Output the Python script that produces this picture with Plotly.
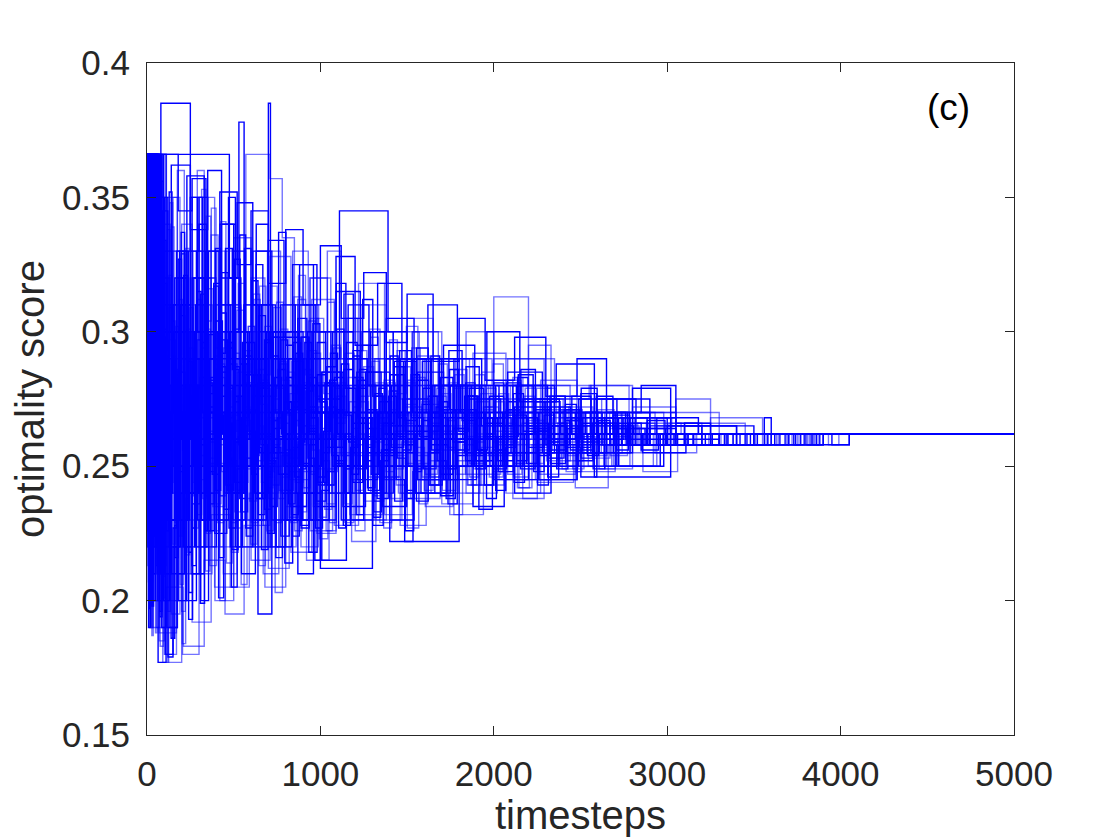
import plotly.graph_objects as go

# optimality score of each run, stored as (timestep, value) change points
# every run keeps its last value until t_end
t_end = 5000

run01 = [(0, .366), (8, .24), (20, .33), (34, .21), (50, .366), (66, .26), (90, .345), (120, .23), (160, .30),
         (210, .25), (270, .32), (330, .22), (400, .285), (470, .24), (560, .31), (650, .255), (760, .29),
         (860, .24), (980, .275), (1120, .25), (1260, .285), (1400, .255), (1560, .27), (1720, .245),
         (1900, .268), (2100, .255), (2350, .27), (2600, .258), (2900, .265), (3200, .258), (3600, .262)]
run02 = [(0, .366), (15, .19), (28, .30), (45, .25), (60, .366), (80, .215), (105, .29), (140, .195), (190, .27),
         (250, .21), (310, .31), (380, .235), (450, .33), (530, .26), (620, .22), (720, .30), (820, .245),
         (940, .32), (1060, .26), (1180, .23), (1310, .28), (1450, .24), (1600, .29), (1780, .255), (1960, .275),
         (2150, .25), (2380, .268), (2620, .255), (2850, .262), (3100, .258), (3400, .262)]
run03 = [(0, .366), (5, .28), (18, .366), (30, .20), (48, .32), (64, .177), (110, .25), (150, .31), (200, .26),
         (260, .35), (320, .27), (390, .225), (460, .29), (540, .25), (630, .34), (700, .28), (790, .23),
         (890, .27), (1000, .215), (1150, .26), (1290, .30), (1420, .265), (1580, .24), (1750, .28), (1920, .26),
         (2120, .245), (2330, .265), (2560, .255), (2800, .268), (3050, .258), (3500, .262)]
run04 = [(0, .366), (10, .35), (22, .23), (38, .366), (52, .27), (70, .185), (100, .28), (135, .22), (175, .36),
         (215, .29), (280, .245), (350, .30), (420, .20), (500, .27), (580, .23), (670, .30), (750, .26),
         (840, .33), (930, .27), (1050, .24), (1200, .29), (1340, .26), (1500, .305), (1650, .27), (1820, .25),
         (2000, .29), (2200, .265), (2420, .25), (2650, .27), (2900, .258), (3300, .262)]
run05 = [(0, .366), (30, .25), (50, .30), (80, .385), (250, .33), (300, .35), (350, .26), (420, .31), (480, .24),
         (560, .28), (640, .195), (720, .26), (800, .30), (900, .25), (1010, .285), (1130, .235), (1260, .27),
         (1390, .25), (1540, .29), (1700, .26), (1860, .275), (2040, .25), (2260, .27), (2500, .26), (2750, .268),
         (3000, .258), (3400, .262)]
run06 = [(0, .366), (7, .30), (16, .366), (26, .22), (42, .34), (58, .27), (76, .366), (92, .23), (120, .177),
         (200, .24), (240, .30), (290, .36), (330, .28), (400, .33), (460, .26), (540, .22), (610, .29), (690, .25),
         (780, .31), (870, .265), (980, .225), (1090, .27), (1220, .24), (1370, .28), (1520, .255), (1680, .29),
         (1860, .26), (2030, .245), (2240, .27), (2480, .25), (2720, .262), (3000, .258), (3600, .262)]
run07 = [(0, .366), (12, .26), (26, .31), (40, .24), (58, .366), (74, .29), (96, .20), (130, .27), (170, .33),
         (230, .28), (290, .23), (360, .29), (430, .34), (500, .30), (580, .26), (660, .31), (740, .27),
         (830, .235), (920, .29), (1110, .345), (1390, .30), (1500, .26), (1640, .29), (1800, .27), (1950, .25),
         (2130, .28), (2350, .262), (2580, .275), (2820, .258), (3100, .265), (3500, .262)]
run08 = [(0, .366), (4, .22), (14, .33), (24, .19), (36, .366), (48, .25), (62, .31), (78, .21), (98, .366),
         (112, .26), (150, .22), (190, .30), (240, .26), (300, .32), (370, .25), (440, .21), (520, .285),
         (600, .32), (680, .26), (770, .22), (860, .28), (960, .24), (1070, .30), (1190, .255), (1320, .23),
         (1470, .27), (1620, .25), (1790, .28), (1980, .26), (2180, .275), (2400, .255), (2640, .27), (2900, .258),
         (3250, .262)]
run09 = [(0, .366), (9, .27), (20, .35), (33, .24), (47, .366), (63, .20), (86, .29), (118, .25), (160, .32),
         (210, .24), (260, .21), (330, .28), (400, .26), (470, .31), (540, .27), (620, .24), (700, .385),
         (712, .29), (790, .26), (880, .31), (970, .27), (1080, .25), (1210, .285), (1350, .26), (1500, .24),
         (1660, .27), (1830, .255), (2010, .28), (2230, .26), (2470, .27), (2700, .258), (3000, .265), (3400, .262)]
run10 = [(0, .366), (6, .34), (19, .25), (31, .366), (44, .30), (57, .22), (73, .366), (88, .27), (115, .24),
         (150, .35), (190, .30), (245, .26), (305, .21), (375, .26), (445, .30), (515, .25), (590, .29), (670, .21),
         (760, .27), (850, .25), (950, .30), (1060, .27), (1170, .23), (1300, .26), (1440, .29), (1590, .265),
         (1750, .24), (1920, .27), (2110, .258), (2330, .28), (2560, .262), (2800, .272), (3050, .258), (3450, .262)]
run11 = [(0, .366), (11, .21), (24, .29), (37, .366), (51, .25), (68, .33), (85, .19), (108, .26), (145, .30),
         (185, .23), (235, .28), (295, .25), (355, .33), (415, .27), (480, .30), (530, .378), (560, .29),
         (630, .25), (710, .22), (800, .28), (890, .24), (1000, .27), (1120, .23), (1250, .26), (1380, .29),
         (1530, .27), (1690, .25), (1850, .28), (2030, .265), (2250, .25), (2490, .268), (2740, .258), (3000, .262)]
run12 = [(0, .366), (13, .29), (27, .23), (42, .366), (56, .31), (72, .20), (100, .18), (170, .25), (205, .18),
         (300, .23), (350, .28), (420, .22), (490, .26), (560, .30), (640, .24), (720, .27), (810, .23), (900, .29),
         (1000, .26), (1110, .30), (1230, .27), (1360, .245), (1500, .28), (1660, .26), (1820, .29), (1990, .27),
         (2170, .25), (2380, .27), (2620, .258), (2880, .266), (3200, .262)]
run13 = [(0, .366), (8, .20), (21, .31), (35, .26), (49, .366), (65, .23), (82, .29), (104, .21), (138, .25),
         (180, .20), (225, .27), (280, .31), (340, .24), (410, .29), (480, .22), (550, .27), (630, .33), (700, .27),
         (780, .24), (870, .21), (960, .25), (1000, .212), (1300, .24), (1420, .27), (1560, .245), (1720, .26),
         (1880, .235), (2060, .255), (2260, .245), (2480, .262), (2720, .25), (2980, .258), (3350, .262),
         (3700, .258), (4050, .262)]
run14 = [(0, .366), (10, .25), (23, .36), (36, .28), (52, .366), (69, .24), (90, .32), (125, .27), (165, .23),
         (215, .29), (270, .25), (335, .32), (395, .28), (465, .24), (535, .30), (615, .26), (695, .33), (770, .28),
         (860, .25), (950, .30), (1060, .27), (1180, .25), (1310, .29), (1460, .26), (1610, .28), (1770, .255),
         (1930, .285), (2000, .313), (2200, .29), (2350, .27), (2560, .28), (2780, .262), (3020, .27), (3300, .262)]
run15 = [(0, .366), (7, .31), (17, .21), (29, .27), (43, .366), (59, .23), (77, .30), (99, .25), (132, .19),
         (175, .24), (220, .28), (275, .22), (340, .26), (405, .30), (475, .25), (545, .21), (625, .26), (705, .30),
         (790, .25), (880, .28), (975, .23), (1090, .27), (1210, .245), (1330, .27), (1400, .222), (1800, .25),
         (1950, .27), (2120, .24), (2330, .26), (2580, .246), (3020, .26), (3300, .258), (3700, .262)]
run16 = [(0, .366), (5, .27), (15, .366), (25, .23), (39, .30), (54, .366), (70, .26), (94, .22), (128, .29),
         (168, .25), (212, .33), (265, .27), (325, .23), (385, .31), (455, .27), (525, .23), (600, .28), (680, .24),
         (760, .30), (850, .27), (940, .32), (1040, .28), (1160, .24), (1290, .27), (1420, .30), (1570, .27),
         (1730, .25), (1900, .265), (2080, .29), (2290, .27), (2510, .255), (2740, .27), (2980, .262), (3250, .268),
         (3550, .262)]
run17 = [(0, .366), (9, .19), (19, .25), (32, .366), (46, .28), (61, .21), (80, .35), (102, .27), (140, .23),
         (180, .28), (228, .20), (285, .26), (345, .30), (410, .25), (470, .35), (510, .30), (590, .26), (665, .28),
         (745, .22), (835, .26), (925, .30), (1030, .26), (1150, .29), (1270, .255), (1400, .23), (1540, .26),
         (1700, .28), (1870, .25), (2050, .27), (2260, .245), (2480, .265), (2710, .25), (2960, .262), (3300, .258),
         (3900, .262)]
run18 = [(0, .366), (12, .34), (25, .26), (39, .366), (53, .21), (71, .27), (91, .177), (125, .23), (160, .27),
         (205, .22), (255, .30), (315, .26), (375, .22), (440, .27), (505, .24), (575, .29), (655, .25), (735, .29),
         (820, .26), (910, .24), (1010, .28), (1130, .26), (1250, .23), (1380, .25), (1520, .28), (1680, .26),
         (1840, .24), (2020, .26), (2220, .28), (2440, .26), (2680, .25), (2940, .265), (3200, .258), (3550, .262)]
run19 = [(0, .366), (6, .22), (16, .28), (28, .366), (41, .33), (55, .24), (73, .29), (95, .366), (110, .30),
         (150, .26), (195, .31), (250, .35), (290, .30), (355, .26), (425, .28), (495, .23), (565, .27), (645, .31),
         (725, .27), (815, .29), (905, .25), (1005, .285), (1115, .26), (1240, .30), (1370, .27), (1510, .25),
         (1660, .28), (1820, .26), (2000, .245), (2200, .265), (2420, .255), (2650, .275), (2900, .262),
         (3150, .258), (3500, .262)]
run20 = [(0, .366), (8, .30), (18, .24), (30, .35), (44, .20), (60, .28), (78, .23), (100, .32), (135, .20),
         (178, .26), (222, .23), (278, .29), (338, .32), (398, .27), (462, .24), (532, .28), (612, .22), (692, .26),
         (772, .24), (862, .30), (955, .27), (1065, .24), (1185, .27), (1315, .29), (1455, .25), (1605, .235),
         (1765, .265), (1935, .25), (2115, .275), (2325, .262), (2545, .25), (2785, .262), (3035, .258), (3350, .262)]
run21 = [(0, .366), (10, .23), (22, .366), (34, .29), (48, .24), (64, .33), (84, .27), (106, .18), (150, .22),
         (192, .28), (240, .24), (300, .34), (345, .29), (405, .25), (470, .32), (540, .28), (615, .23), (690, .28),
         (770, .31), (855, .26), (945, .23), (1050, .27), (1160, .31), (1280, .28), (1410, .26), (1560, .285),
         (1710, .27), (1880, .25), (2060, .27), (2280, .26), (2520, .27), (2760, .26), (3020, .265), (3400, .262)]
run22 = [(0, .366), (4, .33), (13, .25), (27, .366), (40, .27), (54, .19), (72, .25), (94, .30), (128, .25),
         (172, .21), (218, .25), (268, .29), (328, .25), (392, .20), (452, .24), (522, .29), (602, .26), (682, .22),
         (762, .28), (852, .25), (946, .27), (1046, .24), (1166, .28), (1296, .25), (1436, .27), (1586, .245),
         (1746, .27), (1916, .255), (2096, .28), (2306, .265), (2536, .26), (2776, .268), (3026, .262),
         (3300, .258), (3600, .262)]
run23 = [(0, .366), (11, .28), (24, .366), (37, .22), (52, .26), (67, .366), (85, .29), (112, .24), (148, .27),
         (188, .33), (238, .28), (298, .24), (358, .29), (428, .26), (498, .33), (568, .28), (648, .30), (728, .255),
         (808, .23), (898, .26), (998, .28), (1108, .25), (1228, .27), (1358, .235), (1498, .26), (1648, .28),
         (1808, .27), (1978, .25), (2168, .275), (2378, .255), (2608, .262), (2858, .255), (3108, .262)]
run24 = [(0, .366), (9, .25), (21, .32), (33, .21), (46, .366), (62, .30), (80, .26), (103, .22), (137, .28),
         (182, .32), (232, .26), (287, .22), (352, .27), (418, .23), (488, .27), (558, .31), (638, .27), (718, .29),
         (798, .26), (888, .22), (988, .26), (1098, .29), (1218, .26), (1348, .28), (1488, .26), (1638, .24),
         (1798, .26), (1968, .28), (2158, .26), (2368, .25), (2598, .265), (2838, .258), (3100, .266), (3450, .258),
         (3900, .262)]
run25 = [(0, .366), (14, .26), (28, .33), (42, .23), (56, .366), (75, .28), (97, .25), (131, .31), (170, .27),
         (218, .24), (274, .30), (336, .27), (402, .23), (470, .28), (540, .25), (620, .29), (700, .26), (785, .30),
         (875, .25), (970, .28), (1085, .25), (1205, .27), (1335, .25), (1475, .275), (1625, .26), (1785, .28),
         (1955, .26), (2135, .27), (2345, .258), (2575, .268), (2815, .258), (3000, .262), (3060, .258),
         (3120, .262), (3200, .258), (3260, .262), (3340, .258), (3420, .262), (3480, .258), (3560, .268),
         (3600, .262), (3650, .258), (3700, .262), (3730, .258), (3770, .262), (3800, .258), (3830, .262),
         (3860, .258), (3900, .262), (3950, .258), (4050, .262)]
run26 = [(0, .366), (6, .29), (17, .366), (30, .25), (45, .31), (60, .22), (79, .27), (101, .34), (134, .28),
         (176, .24), (224, .31), (282, .26), (342, .23), (412, .27), (478, .24), (548, .26), (628, .23), (708, .27),
         (788, .25), (868, .28), (962, .26), (1072, .28), (1192, .25), (1322, .27), (1462, .24), (1612, .265),
         (1772, .25), (1942, .27), (2122, .262), (2332, .275), (2562, .262), (2802, .27), (3052, .262),
         (3300, .258), (3500, .262), (3580, .258), (3640, .262), (3720, .258), (3760, .262), (3810, .258),
         (3850, .262)]
run27 = [(0, .366), (475, .32), (540, .28), (600, .25), (690, .30), (770, .27), (860, .23), (960, .27),
         (1070, .30), (1190, .28), (1320, .26), (1460, .29), (1610, .27), (1770, .29), (1930, .265), (2110, .28),
         (2310, .262), (2530, .27), (2770, .258), (3020, .262)]
run28 = [(0, .366), (30, .28), (100, .24), (160, .29), (230, .33), (320, .27), (400, .31), (490, .26),
         (570, .366), (710, .357), (780, .335), (850, .31), (940, .28), (1040, .33), (1120, .29), (1240, .31),
         (1380, .28), (1530, .30), (1680, .28), (1840, .30), (2000, .28), (2200, .295), (2330, .275), (2550, .28),
         (2800, .27), (3050, .275), (3250, .262)]
run29 = [(0, .366), (3, .247), (9, .318), (15, .203), (22, .291), (30, .366), (37, .262), (45, .224), (54, .337),
         (63, .279), (74, .196), (86, .255), (99, .301), (113, .234), (128, .352), (144, .288), (161, .216),
         (179, .263), (198, .329), (218, .247), (240, .193), (263, .272), (287, .315), (312, .258), (338, .226),
         (366, .283), (395, .241), (425, .307), (457, .266), (490, .219), (525, .276), (562, .331), (600, .284),
         (640, .238), (682, .296), (726, .257), (772, .224), (820, .271), (870, .305), (922, .262), (976, .237),
         (1032, .281), (1090, .252), (1150, .296), (1212, .268), (1276, .241), (1342, .274), (1410, .257),
         (1480, .289), (1552, .263), (1626, .243), (1702, .271), (1780, .256), (1860, .279), (1942, .261),
         (2026, .248), (2112, .268), (2200, .257), (2290, .274), (2382, .262), (2476, .252), (2572, .266),
         (2670, .258), (2770, .264), (2872, .258), (2976, .262)]
run30 = [(0, .366), (5, .213), (11, .284), (18, .341), (26, .229), (34, .366), (41, .305), (49, .188), (58, .247),
         (68, .322), (79, .271), (91, .209), (104, .293), (118, .338), (133, .256), (149, .221), (166, .302),
         (184, .267), (203, .184), (223, .241), (244, .309), (266, .275), (290, .232), (315, .294), (341, .343),
         (368, .281), (397, .236), (427, .262), (458, .214), (491, .269), (526, .318), (563, .271), (601, .229),
         (641, .286), (683, .248), (727, .309), (773, .266), (821, .231), (871, .258), (923, .293), (977, .249),
         (1033, .226), (1091, .268), (1151, .305), (1213, .274), (1277, .246), (1343, .229), (1411, .262),
         (1481, .281), (1553, .254), (1627, .276), (1703, .241), (1781, .264), (1861, .251), (1943, .272),
         (2027, .258), (2113, .246), (2201, .267), (2291, .255), (2383, .271), (2477, .259), (2573, .266),
         (2671, .254), (2771, .262), (2900, .258), (3100, .262)]
run31 = [(0, .366), (2, .296), (7, .366), (13, .238), (20, .275), (27, .198), (35, .322), (44, .366), (52, .251),
         (61, .287), (71, .232), (82, .356), (94, .298), (107, .244), (121, .179), (150, .227), (170, .284),
         (190, .248), (212, .321), (235, .276), (259, .213), (284, .254), (310, .296), (337, .239), (365, .272),
         (394, .331), (424, .287), (455, .243), (487, .205), (520, .249), (555, .288), (591, .262), (629, .325),
         (668, .279), (709, .235), (751, .268), (795, .214), (840, .257), (887, .298), (935, .272), (985, .244),
         (1037, .287), (1091, .318), (1147, .279), (1205, .249), (1265, .271), (1327, .238), (1391, .265),
         (1457, .293), (1525, .268), (1595, .249), (1667, .272), (1741, .293), (1817, .267), (1895, .252),
         (1975, .276), (2057, .261), (2141, .284), (2227, .266), (2315, .253), (2405, .271), (2497, .262),
         (2591, .276), (2687, .264), (2785, .258), (2885, .267), (2987, .262), (3150, .258), (3380, .262)]
run32 = [(0, .366), (4, .331), (10, .257), (17, .366), (24, .214), (32, .268), (40, .309), (48, .366), (57, .284),
         (66, .231), (76, .183), (95, .242), (110, .276), (126, .321), (143, .262), (161, .229), (180, .273),
         (200, .196), (221, .238), (243, .294), (266, .258), (290, .312), (315, .268), (341, .225), (368, .251),
         (396, .288), (425, .341), (455, .296), (486, .252), (518, .227), (551, .263), (586, .302), (622, .249),
         (660, .282), (699, .238), (739, .203), (781, .246), (824, .277), (869, .312), (915, .271), (963, .236),
         (1012, .262), (1063, .295), (1116, .254), (1170, .232), (1226, .276), (1284, .301), (1344, .266),
         (1406, .238), (1470, .259), (1536, .283), (1604, .247), (1674, .265), (1746, .232), (1820, .258),
         (1896, .274), (1974, .246), (2054, .263), (2136, .242), (2220, .258), (2306, .271), (2394, .249),
         (2484, .261), (2576, .253), (2670, .264), (2766, .258), (2864, .262)]
run33 = [(0, .366), (6, .278), (12, .197), (19, .312), (27, .366), (35, .244), (43, .289), (52, .213), (62, .356),
         (73, .297), (85, .258), (98, .318), (112, .226), (127, .268), (143, .304), (160, .243), (178, .286),
         (197, .337), (217, .279), (238, .218), (260, .265), (283, .236), (307, .283), (332, .247), (358, .299),
         (385, .262), (413, .201), (442, .257), (472, .296), (503, .274), (535, .238), (569, .284), (604, .319),
         (640, .262), (678, .297), (717, .253), (757, .286), (799, .241), (842, .272), (887, .228), (933, .264),
         (981, .296), (1030, .257), (1081, .283), (1134, .249), (1188, .293), (1244, .312), (1302, .276),
         (1362, .254), (1424, .287), (1488, .263), (1554, .237), (1622, .268), (1692, .283), (1764, .259),
         (1838, .276), (1914, .252), (1992, .268), (2072, .281), (2154, .262), (2238, .271), (2324, .256),
         (2412, .268), (2502, .277), (2594, .262), (2688, .266), (2784, .258), (2900, .264), (3050, .258),
         (3250, .262)]
run34 = [(0, .366), (3, .226), (8, .284), (14, .366), (21, .302), (28, .187), (36, .249), (45, .293), (54, .236),
         (64, .327), (75, .366), (86, .264), (98, .213), (111, .252), (125, .297), (140, .339), (156, .283),
         (173, .247), (191, .206), (210, .259), (230, .301), (251, .262), (273, .227), (296, .271), (320, .238),
         (345, .304), (371, .346), (398, .294), (426, .251), (455, .278), (485, .229), (516, .267), (548, .244),
         (582, .281), (617, .312), (653, .273), (691, .226), (730, .258), (770, .301), (812, .269), (855, .244),
         (900, .281), (946, .262), (994, .223), (1043, .249), (1094, .276), (1147, .261), (1201, .226),
         (1257, .254), (1315, .281), (1375, .262), (1437, .243), (1501, .227), (1567, .251), (1635, .273),
         (1705, .249), (1777, .264), (1851, .243), (1927, .257), (2005, .275), (2085, .254), (2167, .238),
         (2251, .256), (2337, .268), (2425, .252), (2515, .262), (2607, .249), (2701, .258), (2797, .266),
         (2895, .258), (3000, .262)]
run35 = [(0, .366), (5, .262), (11, .366), (17, .291), (24, .219), (31, .276), (39, .341), (47, .228), (56, .302),
         (65, .256), (75, .194), (87, .231), (100, .274), (114, .245), (129, .309), (145, .271), (162, .234),
         (180, .327), (199, .285), (219, .242), (240, .203), (262, .236), (285, .279), (309, .314), (334, .272),
         (360, .236), (387, .268), (415, .216), (444, .251), (474, .294), (505, .327), (537, .288), (571, .253),
         (606, .276), (642, .232), (680, .261), (719, .298), (759, .337), (801, .295), (844, .262), (889, .227),
         (935, .258), (983, .284), (1032, .248), (1083, .271), (1136, .314), (1190, .283), (1246, .252),
         (1304, .237), (1364, .266), (1426, .289), (1490, .258), (1556, .282), (1624, .255), (1694, .239),
         (1766, .264), (1840, .287), (1916, .268), (1994, .249), (2074, .271), (2156, .286), (2240, .264),
         (2326, .251), (2414, .267), (2504, .279), (2596, .262), (2690, .255), (2786, .268), (2884, .258),
         (3000, .262), (3100, .258), (3220, .262)]
run36 = [(0, .366), (2, .339), (6, .241), (12, .298), (18, .366), (25, .207), (33, .264), (41, .319), (50, .279),
         (60, .366), (70, .248), (81, .218), (93, .287), (106, .253), (120, .196), (135, .244), (151, .291),
         (168, .266), (186, .312), (205, .256), (225, .217), (246, .274), (268, .239), (291, .297), (315, .353),
         (340, .301), (366, .263), (393, .226), (421, .283), (450, .251), (480, .288), (511, .244), (543, .206),
         (577, .249), (612, .284), (648, .317), (686, .276), (725, .243), (765, .288), (807, .256), (850, .226),
         (895, .265), (941, .305), (989, .274), (1038, .243), (1089, .266), (1142, .292), (1196, .254),
         (1252, .237), (1310, .268), (1370, .245), (1432, .277), (1496, .302), (1562, .271), (1630, .246),
         (1700, .263), (1772, .286), (1846, .254), (1922, .277), (2000, .263), (2080, .247), (2162, .266),
         (2246, .279), (2332, .259), (2420, .271), (2510, .255), (2602, .266), (2696, .261), (2792, .258),
         (2890, .262)]
run37 = [(0, .366), (4, .292), (9, .207), (16, .253), (23, .366), (30, .314), (38, .232), (46, .271), (55, .366),
         (64, .289), (74, .221), (85, .264), (97, .334), (110, .283), (124, .237), (139, .186), (160, .228),
         (178, .268), (197, .306), (217, .252), (238, .289), (260, .227), (283, .261), (307, .199), (332, .247),
         (358, .282), (385, .317), (413, .269), (442, .234), (472, .262), (503, .301), (535, .336), (569, .291),
         (604, .247), (640, .281), (678, .234), (717, .267), (757, .298), (799, .262), (842, .296), (887, .251),
         (933, .218), (981, .246), (1030, .281), (1081, .257), (1134, .286), (1188, .244), (1244, .268),
         (1302, .228), (1362, .256), (1424, .284), (1488, .267), (1554, .294), (1622, .265), (1692, .247),
         (1764, .271), (1838, .252), (1914, .234), (1992, .256), (2072, .271), (2154, .249), (2238, .263),
         (2324, .276), (2412, .257), (2502, .246), (2594, .262), (2688, .269), (2784, .258), (2882, .264),
         (2990, .258), (3120, .262)]
run38 = [(0, .366), (7, .254), (14, .366), (22, .283), (30, .198), (39, .243), (48, .366), (57, .277), (67, .312),
         (78, .249), (90, .201), (103, .258), (117, .291), (132, .348), (148, .297), (165, .255), (183, .224),
         (202, .279), (222, .331), (243, .268), (265, .244), (288, .297), (312, .254), (337, .211), (363, .253),
         (390, .276), (418, .239), (447, .297), (477, .262), (508, .309), (540, .265), (574, .238), (609, .259),
         (645, .213), (683, .247), (722, .275), (762, .241), (804, .283), (847, .313), (892, .271), (938, .248),
         (986, .281), (1035, .236), (1086, .261), (1139, .229), (1193, .258), (1249, .287), (1307, .259),
         (1367, .282), (1429, .254), (1493, .273), (1559, .291), (1627, .266), (1697, .256), (1769, .279),
         (1843, .261), (1919, .243), (1997, .259), (2077, .282), (2159, .268), (2243, .255), (2329, .266),
         (2417, .248), (2507, .259), (2599, .271), (2693, .262), (2789, .266), (2887, .258), (3000, .262)]
run39 = [(0, .366), (20, .27), (60, .23), (110, .30), (180, .26), (260, .32), (350, .27), (450, .24), (560, .29),
         (680, .26), (800, .23), (930, .27), (1070, .25), (1220, .28), (1380, .262), (1550, .24), (1730, .268),
         (1920, .255), (2120, .272), (2330, .262), (2450, .276), (2560, .262), (2640, .268), (2720, .258),
         (2800, .264), (2880, .258), (2960, .262), (3040, .258), (3100, .266), (3180, .262), (3260, .258),
         (3330, .262), (3400, .258), (3460, .262), (3520, .258), (3580, .262), (3620, .258), (3680, .262),
         (3740, .258), (3790, .262), (3840, .258), (3880, .262)]
run40 = [(0, .366), (15, .22), (45, .29), (90, .25), (150, .33), (220, .28), (300, .24), (390, .30), (490, .26),
         (600, .22), (720, .27), (850, .31), (990, .27), (1140, .24), (1300, .26), (1470, .29), (1650, .262),
         (1840, .247), (2040, .262), (2250, .244), (2460, .258), (2640, .249), (2800, .262), (2900, .258),
         (3010, .266), (3080, .262), (3160, .258), (3240, .262), (3310, .258), (3380, .262), (3450, .258),
         (3510, .262), (3570, .258), (3630, .262), (3690, .258), (3750, .262), (3820, .258), (3870, .262),
         (3930, .258), (3990, .262)]
run41 = [(0, .366), (40, .24), (90, .31), (150, .27), (210, .22), (280, .29), (340, .262), (385, .318), (425, .276),
         (462, .241), (500, .287), (535, .253), (572, .224), (610, .271), (645, .306), (683, .262), (720, .291),
         (758, .247), (795, .274), (833, .232), (872, .259), (910, .296), (948, .268), (987, .243), (1026, .281),
         (1065, .254), (1105, .227), (1146, .262), (1188, .291), (1230, .266), (1272, .242), (1315, .277),
         (1358, .255), (1402, .284), (1447, .261), (1493, .238), (1540, .265), (1588, .289), (1636, .258),
         (1685, .274), (1735, .249), (1786, .268), (1838, .281), (1891, .256), (1945, .243), (2000, .266),
         (2056, .252), (2113, .277), (2171, .263), (2230, .248), (2290, .269), (2351, .258), (2413, .273),
         (2476, .262), (2540, .254), (2605, .267), (2671, .258), (2738, .265), (2806, .262)]
run42 = [(0, .366), (25, .30), (70, .21), (130, .26), (200, .34), (260, .29), (320, .25), (362, .213), (401, .258),
         (441, .294), (479, .263), (518, .308), (556, .272), (593, .237), (632, .265), (670, .228), (709, .276),
         (747, .311), (786, .282), (824, .253), (863, .289), (901, .242), (940, .268), (979, .305), (1019, .277),
         (1059, .248), (1100, .271), (1141, .236), (1183, .264), (1225, .293), (1268, .258), (1311, .239),
         (1355, .268), (1399, .297), (1444, .275), (1490, .251), (1537, .272), (1585, .246), (1633, .263),
         (1682, .288), (1732, .267), (1783, .252), (1835, .279), (1888, .259), (1942, .271), (1997, .248),
         (2053, .262), (2110, .283), (2168, .266), (2227, .251), (2287, .264), (2348, .276), (2410, .259),
         (2473, .268), (2537, .255), (2602, .262), (2668, .27), (2735, .258), (2803, .262)]
run43 = [(0, .366), (55, .28), (120, .23), (190, .31), (250, .26), (310, .20), (355, .248), (392, .286), (430, .322),
         (468, .279), (506, .244), (545, .268), (583, .296), (621, .257), (660, .219), (698, .251), (737, .283),
         (776, .262), (815, .236), (854, .274), (893, .298), (932, .263), (972, .227), (1012, .255), (1053, .282),
         (1094, .301), (1136, .269), (1178, .247), (1221, .279), (1264, .261), (1308, .233), (1352, .256),
         (1397, .278), (1443, .253), (1490, .226), (1538, .249), (1587, .273), (1637, .291), (1688, .268),
         (1740, .245), (1793, .259), (1847, .276), (1902, .256), (1958, .238), (2015, .261), (2073, .274),
         (2132, .252), (2192, .268), (2253, .243), (2315, .259), (2378, .272), (2442, .256), (2507, .266),
         (2573, .249), (2640, .262), (2708, .256), (2777, .266), (2850, .258), (2950, .262)]
run44 = [(0, .366), (35, .25), (85, .33), (145, .28), (205, .24), (270, .30), (330, .27), (370, .336), (410, .288),
         (448, .253), (487, .218), (526, .261), (564, .293), (603, .249), (641, .276), (680, .302), (718, .267),
         (757, .238), (796, .262), (835, .289), (874, .321), (914, .284), (954, .256), (994, .231), (1035, .268),
         (1076, .294), (1118, .262), (1160, .283), (1203, .241), (1246, .266), (1290, .298), (1334, .276),
         (1379, .248), (1425, .263), (1472, .287), (1520, .269), (1569, .236), (1619, .255), (1670, .279),
         (1722, .262), (1775, .284), (1829, .266), (1884, .249), (1940, .272), (1997, .288), (2055, .264),
         (2114, .251), (2174, .276), (2235, .262), (2297, .279), (2360, .266), (2424, .254), (2489, .27),
         (2555, .262), (2622, .275), (2690, .264), (2759, .258), (2830, .266), (2930, .262)]
run45 = [(0, .366), (50, .22), (100, .27), (170, .32), (240, .25), (300, .29), (348, .226), (387, .262), (426, .297),
         (464, .251), (503, .276), (541, .233), (580, .262), (618, .284), (657, .258), (695, .225), (734, .264),
         (772, .297), (811, .271), (850, .246), (889, .279), (928, .253), (968, .215), (1008, .241), (1049, .272),
         (1090, .251), (1132, .228), (1174, .257), (1217, .282), (1260, .264), (1304, .231), (1348, .252),
         (1393, .276), (1439, .245), (1486, .222), (1534, .248), (1583, .267), (1633, .243), (1684, .258),
         (1736, .236), (1789, .254), (1843, .271), (1898, .249), (1954, .262), (2011, .241), (2069, .257),
         (2128, .269), (2188, .251), (2249, .263), (2311, .246), (2374, .258), (2438, .267), (2503, .253),
         (2569, .262), (2636, .25), (2704, .258), (2773, .262), (2850, .256), (2950, .262)]
run46 = [(0, .366), (45, .29), (110, .35), (175, .30), (235, .24), (295, .28), (342, .316), (380, .277), (419, .239),
         (457, .268), (496, .292), (534, .255), (573, .281), (611, .314), (650, .276), (688, .242), (727, .271),
         (765, .289), (804, .251), (843, .267), (882, .233), (921, .262), (961, .292), (1001, .264), (1042, .311),
         (1083, .279), (1125, .254), (1167, .274), (1210, .245), (1253, .262), (1297, .289), (1341, .265),
         (1386, .281), (1432, .249), (1479, .272), (1527, .294), (1576, .268), (1626, .252), (1677, .276),
         (1729, .257), (1782, .247), (1836, .269), (1891, .284), (1947, .262), (2004, .274), (2062, .255),
         (2121, .268), (2181, .279), (2242, .262), (2304, .252), (2367, .266), (2431, .272), (2496, .259),
         (2562, .268), (2629, .262), (2697, .258), (2766, .264), (2840, .262)]
run47 = [(0, .366), (30, .23), (80, .28), (140, .21), (215, .27), (285, .33), (338, .281), (376, .247), (415, .292),
         (453, .331), (492, .286), (530, .258), (569, .227), (607, .254), (646, .279), (684, .246), (723, .298),
         (761, .261), (800, .283), (839, .224), (878, .249), (917, .278), (957, .303), (997, .274), (1038, .243),
         (1079, .262), (1121, .288), (1163, .259), (1206, .232), (1249, .268), (1293, .247), (1337, .279),
         (1382, .262), (1428, .237), (1475, .256), (1523, .284), (1572, .261), (1622, .276), (1673, .252),
         (1725, .238), (1778, .262), (1832, .276), (1887, .254), (1943, .266), (2000, .281), (2058, .258),
         (2117, .244), (2177, .262), (2238, .274), (2300, .258), (2363, .249), (2427, .264), (2492, .257),
         (2558, .27), (2625, .258), (2693, .265), (2762, .262)]
run48 = [(0, .366), (60, .27), (125, .22), (185, .29), (255, .24), (325, .31), (366, .268), (404, .229), (443, .256),
         (481, .288), (520, .241), (558, .267), (597, .221), (635, .252), (674, .284), (712, .317), (751, .279),
         (789, .256), (828, .229), (867, .261), (906, .286), (945, .247), (985, .272), (1025, .234), (1066, .257),
         (1107, .281), (1149, .249), (1191, .272), (1234, .295), (1277, .271), (1321, .254), (1365, .227),
         (1410, .246), (1456, .269), (1503, .282), (1551, .257), (1600, .241), (1650, .263), (1701, .277),
         (1753, .256), (1806, .271), (1860, .246), (1915, .261), (1971, .254), (2028, .277), (2086, .259),
         (2145, .242), (2205, .262), (2266, .275), (2328, .253), (2391, .266), (2455, .249), (2520, .261),
         (2586, .254), (2653, .266), (2721, .258), (2790, .262), (2880, .258), (2990, .262)]
run49 = [(0, .366), (20, .32), (65, .26), (115, .19), (175, .23), (245, .28), (315, .23), (358, .277), (396, .304),
         (435, .262), (473, .227), (512, .259), (550, .296), (589, .263), (627, .238), (666, .281), (704, .252),
         (743, .216), (781, .247), (820, .274), (859, .292), (898, .262), (937, .283), (977, .244), (1017, .263),
         (1058, .292), (1099, .262), (1141, .24), (1183, .266), (1226, .286), (1269, .257), (1313, .276),
         (1357, .262), (1402, .291), (1448, .268), (1495, .241), (1543, .262), (1592, .279), (1642, .256),
         (1693, .271), (1745, .286), (1798, .263), (1852, .276), (1907, .256), (1963, .268), (2020, .252),
         (2078, .269), (2137, .283), (2197, .264), (2258, .254), (2320, .272), (2383, .262), (2447, .268),
         (2512, .256), (2578, .266), (2645, .262), (2713, .27), (2782, .262), (2860, .258), (2980, .262)]
run50 = [(0, .366), (40, .30), (95, .25), (160, .20), (230, .25), (300, .22), (352, .259), (390, .291), (429, .248),
         (467, .272), (506, .233), (544, .265), (583, .302), (621, .27), (660, .244), (698, .268), (737, .229),
         (775, .254), (814, .285), (853, .253), (892, .271), (931, .304), (971, .276), (1011, .252), (1052, .229),
         (1093, .257), (1135, .279), (1177, .245), (1220, .262), (1263, .285), (1307, .264), (1351, .246),
         (1396, .271), (1442, .293), (1489, .266), (1537, .252), (1586, .274), (1636, .246), (1687, .262),
         (1739, .281), (1792, .259), (1846, .243), (1901, .262), (1957, .279), (2014, .256), (2072, .266),
         (2131, .251), (2191, .27), (2252, .257), (2314, .265), (2377, .252), (2441, .263), (2506, .272),
         (2572, .259), (2639, .266), (2707, .258), (2776, .262)]
run51 = [(0, .366), (180, .345), (260, .357), (340, .33), (420, .352), (520, .325), (600, .345), (700, .318),
         (800, .338), (900, .31), (1000, .332), (1120, .305), (1250, .322), (1380, .296), (1500, .314), (1650, .289),
         (1800, .305), (1950, .282), (2120, .298), (2300, .276), (2480, .29), (2650, .27), (2850, .28), (3050, .266),
         (3250, .262)]
run52 = [(0, .366), (30, .19), (110, .205), (210, .183), (330, .215), (450, .195), (560, .228), (680, .205),
         (800, .235), (920, .215), (1050, .24), (1180, .222), (1320, .246), (1460, .228), (1610, .25), (1770, .232),
         (1940, .254), (2110, .238), (2290, .255), (2470, .242), (2660, .258), (2860, .248), (3060, .258),
         (3300, .262)]
run53 = [(0, .366), (60, .30), (140, .362), (250, .338), (350, .36), (430, .32), (520, .348), (610, .31),
         (700, .334), (790, .298), (880, .325), (980, .30), (1090, .328), (1200, .295), (1330, .318), (1470, .29),
         (1620, .31), (1790, .28), (1960, .30), (2150, .274), (2360, .288), (2580, .268), (2800, .279), (3020, .262)]
run54 = [(0, .366), (15, .23), (70, .188), (170, .22), (260, .192), (370, .232), (480, .205), (590, .24),
         (700, .212), (820, .248), (940, .226), (1070, .255), (1210, .232), (1360, .258), (1520, .238), (1690, .26),
         (1870, .243), (2060, .262), (2260, .247), (2470, .262), (2690, .25), (2920, .262)]
run55 = [(0, .366), (45, .35), (120, .25), (230, .358), (330, .26), (420, .34), (510, .22), (610, .33), (720, .23),
         (840, .325), (960, .235), (1090, .315), (1230, .24), (1380, .305), (1540, .245), (1710, .295), (1890, .25),
         (2080, .285), (2280, .255), (2490, .275), (2710, .258), (2940, .268), (3180, .262)]
run56 = [(0, .366), (25, .20), (100, .33), (200, .21), (300, .35), (390, .205), (500, .335), (600, .215),
         (710, .328), (830, .218), (950, .312), (1080, .228), (1220, .318), (1370, .232), (1530, .30), (1700, .236),
         (1880, .292), (2070, .24), (2270, .282), (2480, .248), (2700, .27), (2930, .255), (3170, .262)]

runs = [run01, run02, run03, run04, run05, run06, run07, run08, run09, run10, run11, run12, run13, run14,
        run15, run16, run17, run18, run19, run20, run21, run22, run23, run24, run25, run26, run27, run28,
        run29, run30, run31, run32, run33, run34, run35, run36, run37, run38, run39, run40, run41, run42,
        run43, run44, run45, run46, run47, run48, run49, run50, run51, run52, run53, run54, run55, run56]

x_ticks = [0, 1000, 2000, 3000, 4000, 5000]
y_ticks = [0.15, 0.2, 0.25, 0.3, 0.35, 0.4]
y_labels = ["0.15", "0.2", "0.25", "0.3", "0.35", "0.4"]

fig = go.Figure()

for i, run in enumerate(runs):
    xs = [p[0] for p in run] + [t_end]
    ys = [p[1] for p in run] + [run[-1][1]]
    colour = "rgb(0,0,255)" if i % 2 == 0 else "rgba(0,0,255,0.55)"
    fig.add_trace(go.Scatter(x=xs, y=ys, mode="lines", line=dict(color=colour, width=1.4, shape="hv"),
                             showlegend=False, hoverinfo="skip"))

font_main = "Liberation Sans, Arial, Helvetica, sans-serif"
tick_col = "#262626"

fig.update_xaxes(range=[0, 5000], tickvals=x_ticks, ticks="inside", ticklen=9, tickwidth=1,
                 tickcolor=tick_col, showline=True, linecolor=tick_col, linewidth=1, mirror="ticks",
                 showgrid=False, zeroline=False, ticklabelstandoff=8,
                 tickfont=dict(size=35, color=tick_col, family=font_main),
                 title=dict(text="timesteps", font=dict(size=40, color=tick_col, family=font_main), standoff=2))
fig.update_yaxes(range=[0.15, 0.4], tickvals=y_ticks, ticktext=y_labels, ticks="inside", ticklen=9,
                 tickwidth=1, tickcolor=tick_col, showline=True, linecolor=tick_col, linewidth=1,
                 mirror="ticks", showgrid=False, zeroline=False, ticklabelstandoff=9,
                 tickfont=dict(size=35, color=tick_col, family=font_main),
                 title=dict(text="optimality score", font=dict(size=40, color=tick_col, family=font_main),
                            standoff=4))

fig.add_annotation(x=0.925, y=0.9345, xref="paper", yref="paper", xanchor="center", yanchor="middle",
                   text="(c)", showarrow=False, font=dict(size=37, color="black", family=font_main))

fig.update_layout(width=1120, height=840, margin=dict(l=139, r=114, t=55, b=113),
                  plot_bgcolor="white", paper_bgcolor="white")

fig.write_html("out.html")
